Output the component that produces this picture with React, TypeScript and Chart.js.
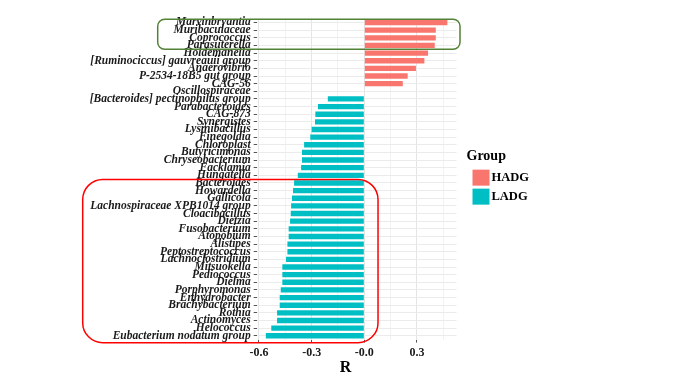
import React, { useEffect, useRef } from 'react';
import { Chart, registerables } from 'chart.js';

Chart.register(...registerables);

const categories = [
  'Marvinbryantia',
  'Muribaculaceae',
  'Coprococcus',
  'Parasuterella',
  'Holdemanella',
  '[Ruminociccus] gauvreauii group',
  'Anaerovibrio',
  'P-2534-18B5 gut group',
  'CAG-56',
  'Oscillospiraceae',
  '[Bacteroides] pectinophilus group',
  'Parabacteroides',
  'CAG-873',
  'Synergistes',
  'Lysinibacillus',
  'Finegoldia',
  'Chloroplast',
  'Butyricimonas',
  'Chryseobacterium',
  'Facklamia',
  'Hungatella',
  'Bacteroides',
  'Howardella',
  'Gallicola',
  'Lachnospiraceae XPB1014 group',
  'Cloacibacillus',
  'Dietzia',
  'Fusobacterium',
  'Atopobium',
  'Alistipes',
  'Peptostreptococcus',
  'Lachnoclostridium',
  'Mitsuokella',
  'Pediococcus',
  'Dielma',
  'Porphyromonas',
  'Enhydrobacter',
  'Brachybacterium',
  'Rothia',
  'Actinomyces',
  'Helococcus',
  'Eubacterium nodatum group',
];

const rValues = [
  0.473, 0.407, 0.407, 0.401, 0.363, 0.342, 0.294, 0.247, 0.219, 0,
  -0.208, -0.264, -0.279, -0.281, -0.3, -0.308, -0.343, -0.355, -0.355, -0.36,
  -0.379, -0.4, -0.406, -0.412, -0.417, -0.419, -0.423, -0.431, -0.431, -0.438,
  -0.438, -0.446, -0.467, -0.467, -0.467, -0.476, -0.482, -0.482, -0.497, -0.497,
  -0.53, -0.561,
];

const groups = [
  'HADG', 'HADG', 'HADG', 'HADG', 'HADG', 'HADG', 'HADG', 'HADG', 'HADG', 'HADG',
  'LADG', 'LADG', 'LADG', 'LADG', 'LADG', 'LADG', 'LADG', 'LADG', 'LADG', 'LADG',
  'LADG', 'LADG', 'LADG', 'LADG', 'LADG', 'LADG', 'LADG', 'LADG', 'LADG', 'LADG',
  'LADG', 'LADG', 'LADG', 'LADG', 'LADG', 'LADG', 'LADG', 'LADG', 'LADG', 'LADG',
  'LADG', 'LADG',
];

const groupNames = ['HADG', 'LADG'];
const groupColors = ['#F8766D', '#00BFC4'];

const majorTicks = [-0.6, -0.3, 0, 0.3];
const majorTickLabels = ['-0.6', '-0.3', '-0.0', '0.3'];

const greenBoxRows = [0, 3];
const redBoxRows = [21, 41];

export default function App() {
  const ref = useRef<HTMLCanvasElement>(null);

  useEffect(() => {
    const canvas = ref.current;
    if (!canvas) return;
    const serif = '"Liberation Serif", "Times New Roman", serif';
    const majorIndex = (v: number) => majorTicks.findIndex((m) => Math.abs(m - v) < 1e-6);

    const overlay = {
      id: 'overlay',
      afterDraw(chart: any) {
        const { ctx, chartArea, scales } = chart;
        const xs = scales.x;
        const ys = scales.y;
        const step = ys.getPixelForValue(1) - ys.getPixelForValue(0);
        ctx.save();
        // green highlight box
        {
          const l = chartArea.left - 99;
          const t = ys.getPixelForValue(greenBoxRows[0]) - 0.43 * step;
          const r = xs.getPixelForValue(0.545);
          const b = ys.getPixelForValue(greenBoxRows[1]) + 0.5 * step;
          ctx.beginPath();
          ctx.roundRect(l, t, r - l, b - t, 7);
          ctx.strokeStyle = '#538135';
          ctx.lineWidth = 1.5;
          ctx.stroke();
        }
        // red highlight box
        {
          const l = chartArea.left - 174;
          const t = ys.getPixelForValue(redBoxRows[0]) - 0.45 * step;
          const r = xs.getPixelForValue(0.078);
          const b = ys.getPixelForValue(redBoxRows[1]) + 0.9 * step;
          ctx.beginPath();
          ctx.roundRect(l, t, r - l, b - t, 20);
          ctx.strokeStyle = '#ff0000';
          ctx.lineWidth = 1.5;
          ctx.stroke();
        }
        // x axis title
        ctx.fillStyle = '#000';
        ctx.textBaseline = 'middle';
        ctx.textAlign = 'center';
        ctx.font = `bold 16px ${serif}`;
        ctx.fillText('R', (chartArea.left + chartArea.right) / 2 - 11, chartArea.bottom + 28);
        // legend
        const mid = (chartArea.top + chartArea.bottom) / 2;
        const lx = chartArea.right + 10;
        ctx.textAlign = 'left';
        ctx.font = `bold 14px ${serif}`;
        ctx.fillText('Group', lx, mid - 23);
        groupNames.forEach((g, i) => {
          const top = mid - 9.5 + i * 19;
          ctx.fillStyle = groupColors[i];
          ctx.fillRect(lx + 6, top, 17, 16);
          ctx.fillStyle = '#000';
          ctx.font = `bold 12.5px ${serif}`;
          ctx.fillText(g, lx + 25, top + 8.5);
        });
        ctx.restore();
      },
    };

    const chart = new Chart(canvas, {
      type: 'bar',
      data: {
        labels: categories,
        datasets: [
          {
            data: rValues,
            backgroundColor: groups.map((g) => groupColors[groupNames.indexOf(g)]),
            barPercentage: 0.7,
            categoryPercentage: 1,
            borderWidth: 0,
          },
        ],
      },
      options: {
        indexAxis: 'y',
        animation: false,
        responsive: false,
        layout: { padding: { top: 18.7, right: 223.5, left: 0, bottom: 0 } },
        plugins: {
          legend: { display: false },
          tooltip: { enabled: false },
        },
        scales: {
          x: {
            type: 'linear',
            min: -0.613,
            max: 0.525,
            border: { display: false },
            afterFit: (s: any) => {
              s.height = 43.4;
            },
            grid: {
              color: (c: any) => (majorIndex(c.tick.value) >= 0 ? '#e4e4e4' : '#f2f2f2'),
              tickColor: (c: any) => (majorIndex(c.tick.value) >= 0 ? '#555' : 'rgba(0,0,0,0)'),
              tickLength: 3,
              lineWidth: 1,
            },
            ticks: {
              stepSize: 0.15,
              includeBounds: false,
              autoSkip: false,
              maxRotation: 0,
              padding: 3,
              color: '#1a1a1a',
              font: { family: serif, size: 12, weight: 'bold' },
              callback: (v: any) => {
                const i = majorIndex(Number(v));
                return i >= 0 ? majorTickLabels[i] : '';
              },
            },
            title: { display: false },
          },
          y: {
            type: 'category',
            offset: true,
            border: { display: false },
            afterFit: (s: any) => {
              s.width = 256.7;
            },
            grid: {
              offset: false,
              color: '#ebebeb',
              tickColor: '#555',
              tickLength: 3,
              lineWidth: 1,
            },
            ticks: {
              autoSkip: false,
              padding: 3,
              color: '#1a1a1a',
              font: { family: serif, size: 11.5, weight: 'bold', style: 'italic' },
            },
          },
        },
      },
      plugins: [overlay],
    } as any);

    return () => chart.destroy();
  }, []);

  return (
    <div style={{ position: 'fixed', left: 0, top: 0, width: 680, height: 383, background: '#fff' }}>
      <canvas ref={ref} width={680} height={383} style={{ display: 'block' }} />
    </div>
  );
}
